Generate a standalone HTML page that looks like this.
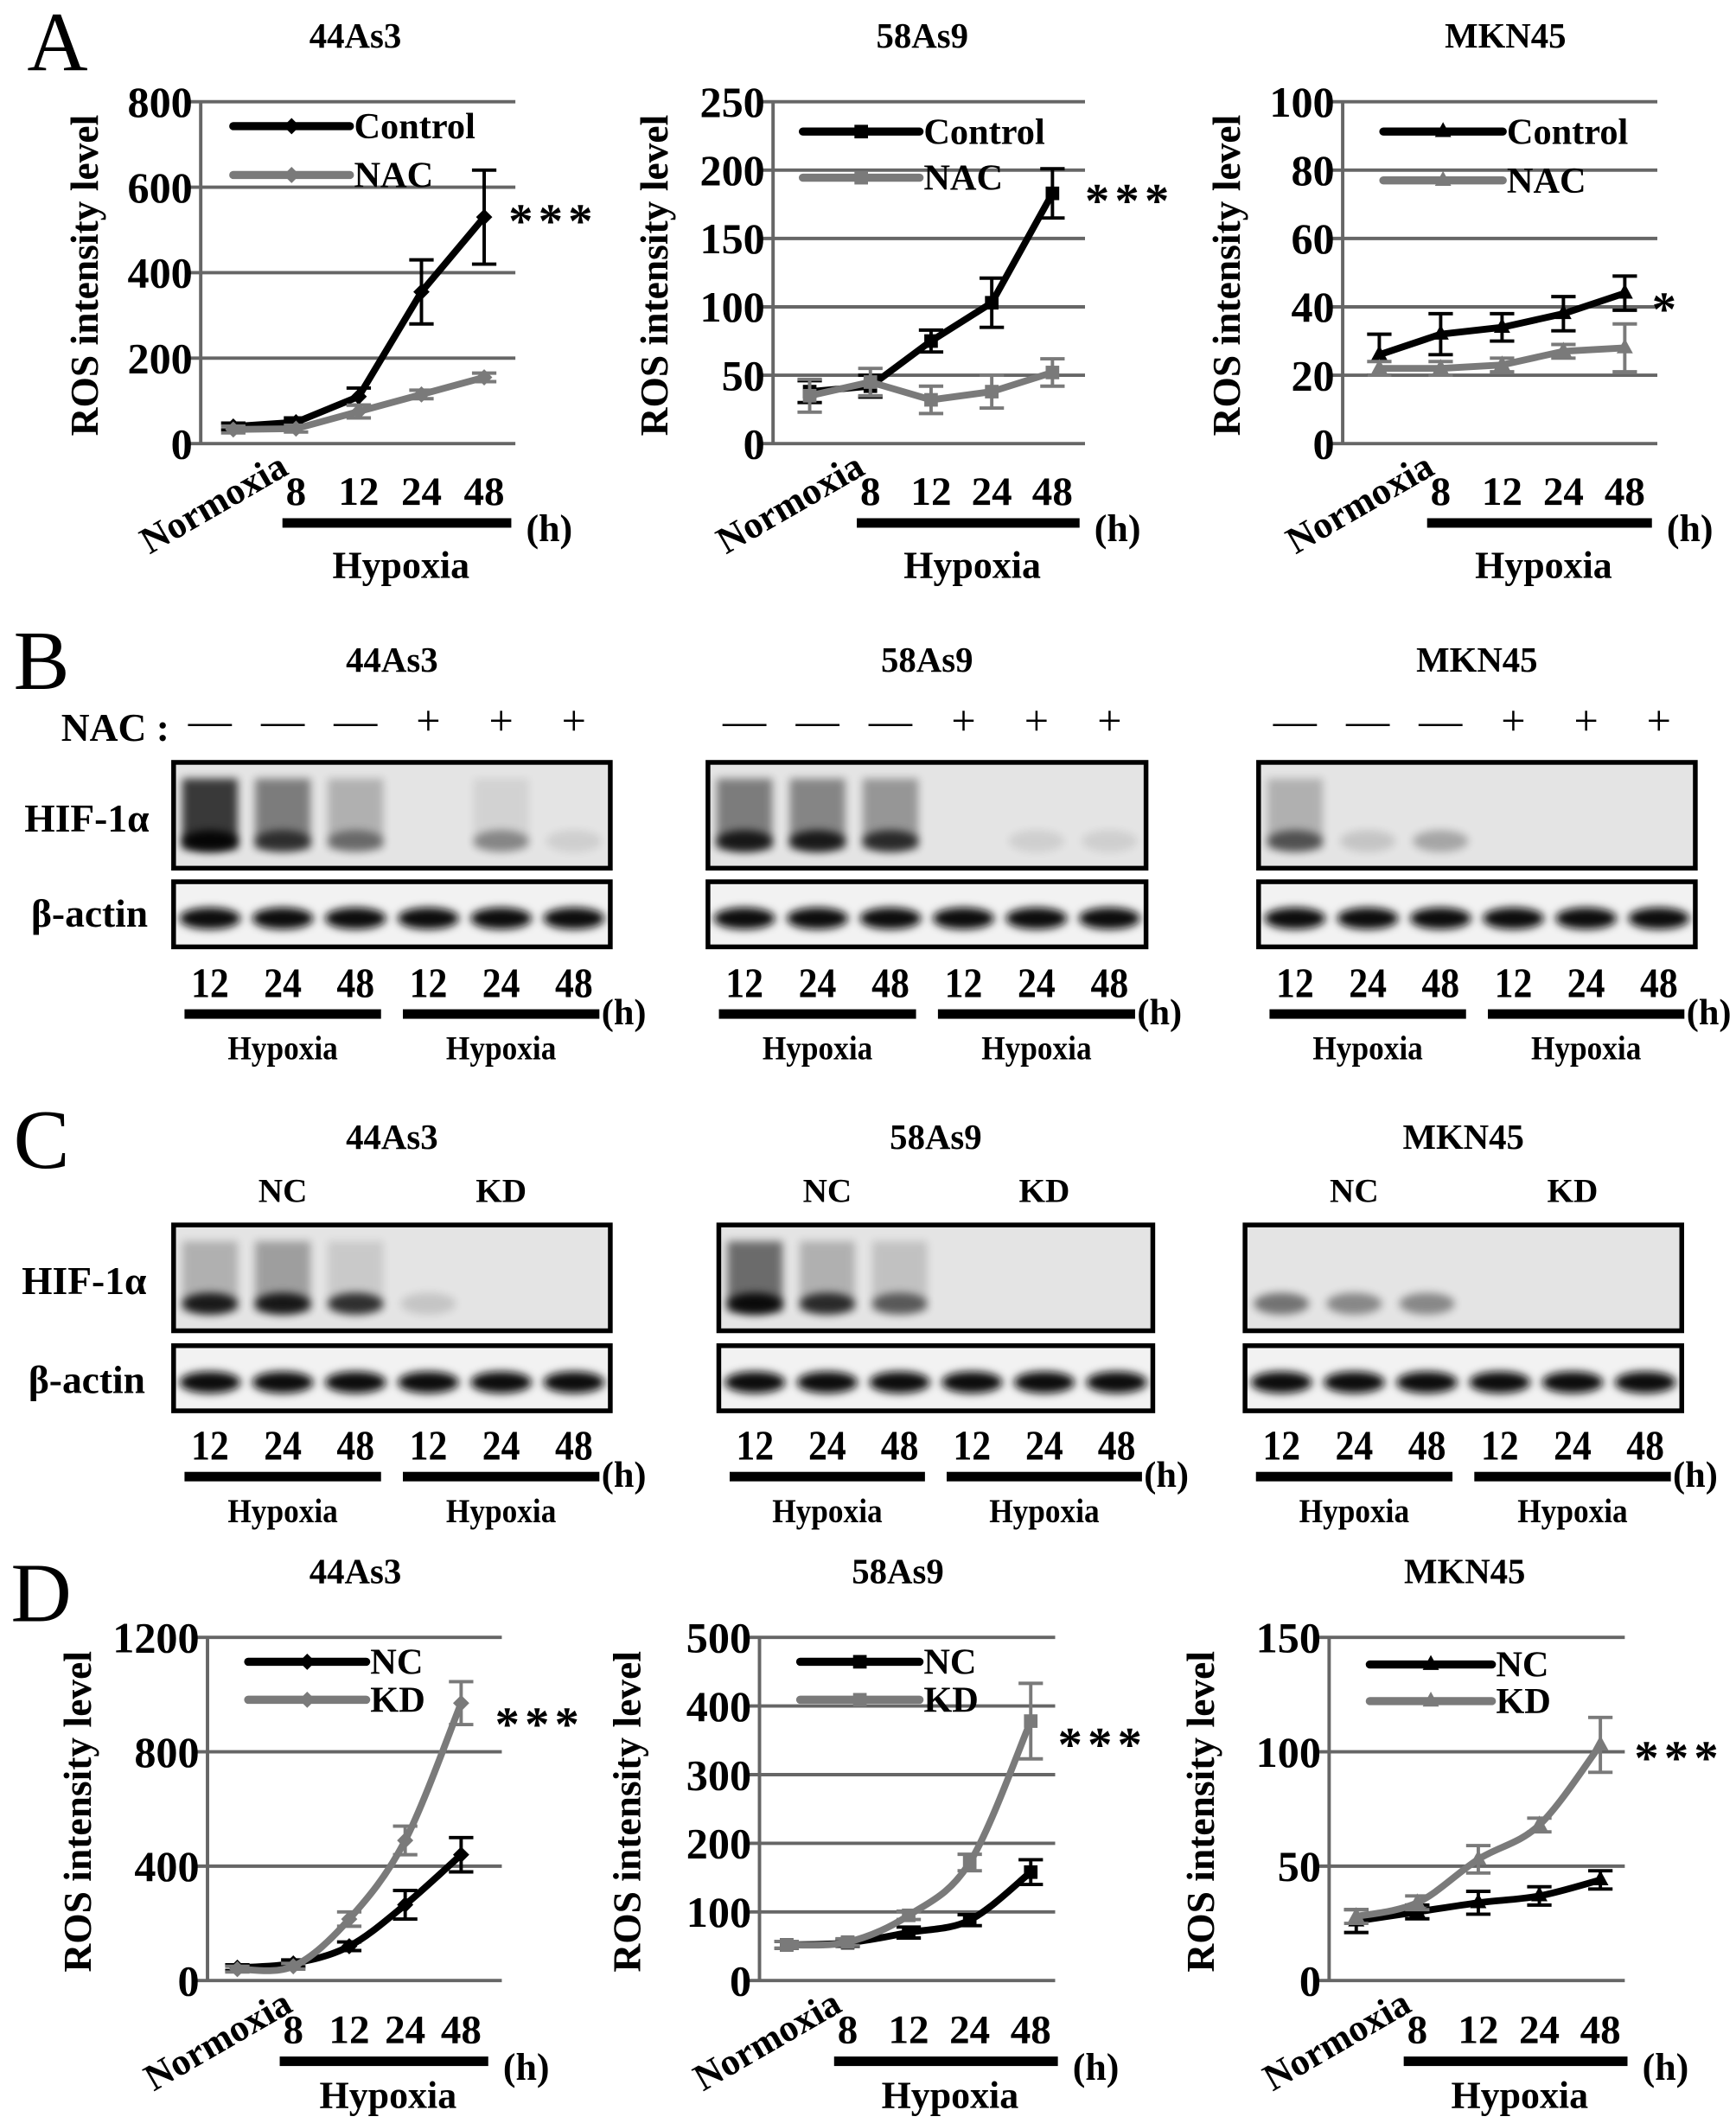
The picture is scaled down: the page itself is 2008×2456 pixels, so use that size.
<!DOCTYPE html>
<html><head><meta charset="utf-8">
<style>
html,body{margin:0;padding:0;background:#fff;}
svg{display:block;font-family:"Liberation Serif",serif;font-weight:bold;}
</style></head>
<body>
<svg id="fig" width="2008" height="2456" viewBox="0 0 1280 1565" preserveAspectRatio="none" xmlns="http://www.w3.org/2000/svg">
<defs>
<filter id="blur1" x="-50%" y="-50%" width="200%" height="200%"><feGaussianBlur stdDeviation="3"/></filter>
</defs>
<g id="root"></g>
</svg>
<script>
// ---------- Chart data ----------
const catsX = ["Normoxia","8","12","24","48"];
const ticksA1 = [0,200,400,600,800];
const ctrlA1 = [40,50,110,355,530];
const ctrlErrA1 = [8,10,20,75,110];
const nacA1 = [33,35,75,115,155];
const nacErrA1 = [8,8,15,10,10];
const ticksA2 = [0,50,100,150,200,250];
const ctrlA2 = [38,42,75,103,183];
const ctrlErrA2 = [8,8,8,18,18];
const nacA2 = [35,45,32,38,52];
const nacErrA2 = [12,10,10,12,10];
const ticksA3 = [0,20,40,60,80,100];
const ctrlA3 = [26,32,34,38,44];
const ctrlErrA3 = [6,6,4,5,5];
const nacA3 = [22,22,23,27,28];
const nacErrA3 = [2,2,2,2,7];
const ticksD1 = [0,400,800,1200];
const ncD1 = [45,60,120,265,440];
const ncErrD1 = [10,12,15,50,60];
const kdD1 = [40,50,215,490,970];
const kdErrD1 = [10,10,25,50,75];
const ticksD2 = [0,100,200,300,400,500];
const ncD2 = [52,55,70,88,158];
const ncErrD2 = [5,5,8,8,18];
const kdD2 = [52,56,95,172,378];
const kdErrD2 = [5,5,6,12,55];
const ticksD3 = [0,50,100,150];
const ncD3 = [26,30,34,37,44];
const ncErrD3 = [5,3,5,4,4];
const kdD3 = [28,34,53,68,103];
const kdErrD3 = [3,3,6,3,12];

const NS="http://www.w3.org/2000/svg";
const root=document.getElementById('root');
function mk(tag,attrs,parent){const e=document.createElementNS(NS,tag);for(const k in attrs)e.setAttribute(k,attrs[k]);(parent||root).appendChild(e);return e;}
function txt(x,y,s,size,anchor,parent,extra){const t=mk('text',Object.assign({x:x,y:y,'font-size':size,'text-anchor':anchor||'middle'},extra||{}),parent);t.textContent=s;return t;}

function smoothPath(pts){
  let d=`M${pts[0][0]},${pts[0][1]}`;
  for(let i=0;i<pts.length-1;i++){
    const p0=pts[i-1]||pts[i],p1=pts[i],p2=pts[i+1],p3=pts[i+2]||p2;
    const c1=[p1[0]+(p2[0]-p0[0])/6,p1[1]+(p2[1]-p0[1])/6];
    const c2=[p2[0]-(p3[0]-p1[0])/6,p2[1]-(p3[1]-p1[1])/6];
    d+=` C${c1[0]},${c1[1]} ${c2[0]},${c2[1]} ${p2[0]},${p2[1]}`;
  }
  return d;
}

function marker(g,type,x,y,color){
  let m;
  if(type==='diamond') m=mk('polygon',{points:`${x},${y-6} ${x+6},${y} ${x},${y+6} ${x-6},${y}`,fill:color},g);
  else if(type==='square') m=mk('rect',{x:x-5,y:y-5,width:10,height:10,fill:color},g);
  else m=mk('polygon',{points:`${x},${y-7} ${x+6},${y+4} ${x-6},${y+4}`,fill:color},g);
  
  
}

function chart(o){
  const g=mk('g',{});
  
  
  const max=o.ticks[o.ticks.length-1];
  const yS=v=>o.y0-(v/max)*(o.y0-o.y1);
  const xS=i=>o.px0+i*(o.px1-o.px0)/(catsX.length-1);
  const tt=txt(o.tx,o.y1-40,o.title,26,'middle',g);
  
  o.ticks.forEach(t=>{
    const y=yS(t);
    const l=mk('line',{x1:o.ax-8,x2:o.ax1,y1:y,y2:y,stroke:'#666','stroke-width':2.5},g);
    
    const tl=txt(o.ax-6,y+11,String(t),32,'end',g);
    
  });
  const ax=mk('line',{x1:o.ax,x2:o.ax,y1:o.y1,y2:o.y0,stroke:'#666','stroke-width':2.5},g);
  
  const yt=txt(0,0,'ROS intensity level',29,'middle',g,{transform:`translate(${o.ytx},${(o.y0+o.y1)/2+2}) rotate(-90)`});
  
  const nx=txt(0,0,'Normoxia',28,'end',g,{transform:`translate(${xS(0)+42},${o.y0+22}) rotate(-30)`});
  
  for(let i=1;i<catsX.length;i++){
    const l=txt(xS(i),o.y0+o.lblDy,catsX[i],30,'middle',g);
    
  }
  const bar=mk('rect',{x:xS(1)-10,y:o.y0+o.lblDy+10,width:xS(4)-xS(1)+30,height:7,fill:'#000'},g);
  
  const h=txt(xS(4)+48,o.y0+o.lblDy+27,'(h)',28,'middle',g);
  
  const hy=txt((xS(1)+xS(4))/2+8,o.y0+o.lblDy+o.hyDy,'Hypoxia',28,'middle',g);
  
  o.series.forEach((s,si)=>{
    const sg=mk('g',{},g);
    
    
    const pts=s.data.map((v,i)=>[xS(i),yS(v)]);
    s.data.forEach((v,i)=>{
      const x=xS(i),e=s.err[i];
      const eb=mk('path',{d:`M${x},${yS(v+e)}V${yS(v-e)}M${x-9},${yS(v+e)}H${x+9}M${x-9},${yS(v-e)}H${x+9}`,stroke:s.color,'stroke-width':2.5,fill:'none'},sg);
      
    });
    const d=o.smooth?smoothPath(pts):'M'+pts.map(p=>p.join(',')).join('L');
    const ln=mk('path',{d:d,stroke:s.color,'stroke-width':5,fill:'none','stroke-linejoin':'round'},sg);
    
    pts.forEach(p=>marker(sg,o.marker,p[0],p[1],s.color));
    const ly=o.y1+o.legY+si*o.legDy;
    const lg=mk('g',{},g);
    
    mk('line',{x1:o.legX,x2:o.legX+o.legW,y1:ly,y2:ly,stroke:s.color,'stroke-width':6,'stroke-linecap':'round'},lg);
    marker(lg,o.marker,o.legX+o.legW/2,ly,s.color);
    txt(o.legX+o.legW+3,ly+9,s.label,27,'start',lg);
  });
  const st=txt(o.starX,o.starY,o.star,36,'start',g,{'letter-spacing':'4'});
  
}

const aCommon={y0:327,y1:75,lblDy:45,hyDy:54,legY:18,legDy:36,smooth:false};
chart(Object.assign({},aCommon,{name:'chart-a-44as3',title:'44As3',tx:262,ax:148,ax1:380,px0:172,px1:357,ytx:72,ticks:ticksA1,marker:'diamond',legX:172,legW:86,
 series:[{label:'Control',data:ctrlA1,err:ctrlErrA1,color:'#000'},{label:'NAC',data:nacA1,err:nacErrA1,color:'#7a7a7a'}],star:'***',starX:375,starY:175}));
chart(Object.assign({},aCommon,{name:'chart-a-58as9',title:'58As9',tx:680,ax:570,ax1:800,px0:597,px1:776,ytx:492,ticks:ticksA2,marker:'square',legX:592,legW:86,legY:22,legDy:34,
 series:[{label:'Control',data:ctrlA2,err:ctrlErrA2,color:'#000'},{label:'NAC',data:nacA2,err:nacErrA2,color:'#7a7a7a'}],star:'***',starX:800,starY:160}));
chart(Object.assign({},aCommon,{name:'chart-a-mkn45',title:'MKN45',tx:1110,ax:990,ax1:1222,px0:1017,px1:1198,ytx:914,ticks:ticksA3,marker:'triangle',legX:1020,legW:88,legY:22,legDy:36,
 series:[{label:'Control',data:ctrlA3,err:ctrlErrA3,color:'#000'},{label:'NAC',data:nacA3,err:nacErrA3,color:'#7a7a7a'}],star:'*',starX:1218,starY:240}));
const dCommon={y0:1460,y1:1207,lblDy:46,hyDy:48,legY:18,legDy:28,smooth:true};
chart(Object.assign({},dCommon,{name:'chart-d-44as3',title:'44As3',tx:262,ax:153,ax1:370,px0:175,px1:340,ytx:67,ticks:ticksD1,marker:'diamond',legX:183,legW:87,
 series:[{label:'NC',data:ncD1,err:ncErrD1,color:'#000'},{label:'KD',data:kdD1,err:kdErrD1,color:'#7a7a7a'}],star:'***',starX:365,starY:1283}));
chart(Object.assign({},dCommon,{name:'chart-d-58as9',title:'58As9',tx:662,ax:560,ax1:778,px0:580,px1:760,ytx:472,ticks:ticksD2,marker:'square',legX:590,legW:88,
 series:[{label:'NC',data:ncD2,err:ncErrD2,color:'#000'},{label:'KD',data:kdD2,err:kdErrD2,color:'#7a7a7a'}],star:'***',starX:780,starY:1298}));
chart(Object.assign({},dCommon,{name:'chart-d-mkn45',title:'MKN45',tx:1080,ax:980,ax1:1198,px0:1000,px1:1180,ytx:895,ticks:ticksD3,marker:'triangle',legX:1010,legW:90,legY:20,legDy:27,
 series:[{label:'NC',data:ncD3,err:ncErrD3,color:'#000'},{label:'KD',data:kdD3,err:kdErrD3,color:'#7a7a7a'}],star:'***',starX:1205,starY:1308}));

// ---------- Blots ----------
const hifB1=[1.0,0.7,0.45,0,0.4,0.1], smearB1=[1.0,0.6,0.3,0,0.1,0];
const hifB2=[0.9,0.9,0.8,0,0.1,0.1], smearB2=[0.6,0.55,0.45,0,0,0];
const hifB3=[0.6,0.15,0.3,0,0,0], smearB3=[0.3,0,0,0,0,0];
const hifC1=[0.95,0.95,0.85,0.15,0,0], smearC1=[0.3,0.4,0.15,0,0,0];
const hifC2=[1.0,0.85,0.6,0,0,0], smearC2=[0.7,0.3,0.2,0,0,0];
const hifC3=[0.55,0.45,0.45,0,0,0], smearC3=[0,0,0,0,0,0];

function blot(o){
  const g=mk('g',{});
  
  const t=txt((o.x0+o.x1)/2,o.titleY,o.title,26,'middle',g);
  
  const w=o.x1-o.x0, lw=w/6;
  const lx=i=>o.x0+lw*(i+0.5);
  mk('rect',{x:o.x0,y:o.hy,width:w,height:78,fill:'#e4e4e4'},g);
  o.hif.forEach((v,i)=>{
    if(o.smear[i]>0){const sm=mk('rect',{x:lx(i)-lw*0.38,y:o.hy+12,width:lw*0.76,height:52,fill:'#000',opacity:o.smear[i]*0.75,filter:'url(#blur1)'},g);
      }
    if(v>0){const b=mk('ellipse',{cx:lx(i),cy:o.hy+58,rx:lw*0.38,ry:8,fill:'#000',opacity:v*0.9,filter:'url(#blur1)'},g);
      }
  });
  const hb=mk('rect',{x:o.x0,y:o.hy,width:w,height:78,fill:'none',stroke:'#000','stroke-width':3.5},g);
  
  mk('rect',{x:o.x0,y:o.ay,width:w,height:48,fill:'#f2f2f2'},g);
  for(let i=0;i<6;i++){const b=mk('ellipse',{cx:lx(i),cy:o.ay+27,rx:lw*0.42,ry:8,fill:'#111',filter:'url(#blur1)'},g);
    }
  const ab=mk('rect',{x:o.x0,y:o.ay,width:w,height:48,fill:'none',stroke:'#000','stroke-width':3.5},g);
  
  const tl=['12','24','48'];
  for(let i=0;i<6;i++){const l=txt(lx(i),o.ly,tl[i%3],31,'middle',g,{transform:`translate(${lx(i)*0.1},0) scale(0.9,1)`});
    }
  [[0,3],[3,6]].forEach(([a,b],k)=>{
    const x1=lx(a)-lw*0.35, x2=lx(b-1)+lw*0.35;
    const bar=mk('rect',{x:x1,y:o.ly+9,width:x2-x1,height:7,fill:'#000'},g);
    
    const h=txt((x1+x2)/2,o.ly+46,'Hypoxia',25,'middle',g,{transform:`translate(${(x1+x2)/2*0.1},0) scale(0.9,1)`});
    
  });
  const hh=txt(o.x1+10,o.ly+20,'(h)',27,'middle',g);
  
  if(o.signs){o.signs.forEach((s,i)=>{const l=txt(lx(i),o.hy-20,s,32,'middle',g,{'font-weight':'normal'});
      });}
  if(o.groups){o.groups.forEach((s,k)=>{const l=txt(lx(k*3+1),o.hy-17,s,25,'middle',g);
      });}
}
const signs=['\u2014','\u2014','\u2014','+','+','+'];
blot({name:'blot-b-44as3',title:'44As3',titleY:495,x0:128,x1:450,hy:562,ay:650,ly:735,hif:hifB1,smear:smearB1,signs:signs});
blot({name:'blot-b-58as9',title:'58As9',titleY:495,x0:522,x1:845,hy:562,ay:650,ly:735,hif:hifB2,smear:smearB2,signs:signs});
blot({name:'blot-b-mkn45',title:'MKN45',titleY:495,x0:928,x1:1250,hy:562,ay:650,ly:735,hif:hifB3,smear:smearB3,signs:signs});
blot({name:'blot-c-44as3',title:'44As3',titleY:847,x0:128,x1:450,hy:903,ay:992,ly:1076,hif:hifC1,smear:smearC1,groups:['NC','KD']});
blot({name:'blot-c-58as9',title:'58As9',titleY:847,x0:530,x1:850,hy:903,ay:992,ly:1076,hif:hifC2,smear:smearC2,groups:['NC','KD']});
blot({name:'blot-c-mkn45',title:'MKN45',titleY:847,x0:918,x1:1240,hy:903,ay:992,ly:1076,hif:hifC3,smear:smearC3,groups:['NC','KD']});

[['NAC :',85,546,29],['HIF-1\u03b1',64,613,29],['\u03b2-actin',66,683,29],['HIF-1\u03b1',62,954,29],['\u03b2-actin',64,1027,29]].forEach(a=>{
  const l=txt(a[1],a[2],a[0],a[3],'middle');
  
});
[['A',20,52],['B',10,508],['C',10,861],['D',8,1195]].forEach(a=>{
  const l=txt(a[1],a[2],a[0],62,'start',root,{'font-weight':'normal'});
  
});
</script>
</body></html>
